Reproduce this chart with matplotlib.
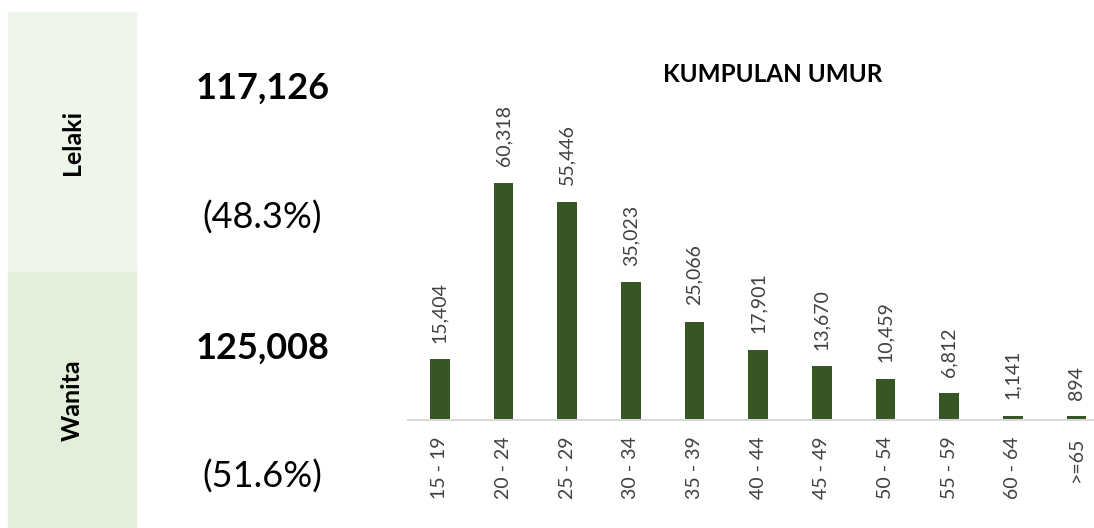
import matplotlib.pyplot as plt
from matplotlib.patches import Rectangle

# data
age_groups = ["15 - 19", "20 - 24", "25 - 29", "30 - 34", "35 - 39", "40 - 44",
              "45 - 49", "50 - 54", "55 - 59", "60 - 64", ">=65"]
counts = [15404, 60318, 55446, 35023, 25066, 17901, 13670, 10459, 6812, 1141, 894]
genders = ["Lelaki", "Wanita"]
gender_totals = ["117,126", "125,008"]
gender_shares = ["(48.3%)", "(51.6%)"]

W, H = 1094, 528
fig = plt.figure(figsize=(W / 100, H / 100), dpi=100)
fig.patch.set_facecolor("white")

# left side panel
panel_colors = ["#EEF5E9", "#E2EFDA"]
panel_y = [(12, 272), (272, 528)]
for (y0, y1), c, g in zip(panel_y, panel_colors, genders):
    fig.patches.append(Rectangle((8 / W, 1 - y1 / H), 128 / W, (y1 - y0) / H,
                                 transform=fig.transFigure, color=c, zorder=0))
    fig.text(72 / W, 1 - (y0 + y1) / 2 / H, g,
             rotation=90, ha="center", va="center", fontsize=18,
             fontweight="bold", family="Lato", color="black")

# totals and shares
tot_y = [88, 348]
share_y = [218, 477]
for t, s, ty, sy in zip(gender_totals, gender_shares, tot_y, share_y):
    fig.text(263 / W, 1 - ty / H, t, ha="center", va="center", fontsize=26,
             fontweight="bold", family="Lato", color="black")
    fig.text(262 / W, 1 - sy / H, s, ha="center", va="center", fontsize=26,
             family="Lato", color="black")

fig.text(773 / W, 1 - 75 / H, "KUMPULAN UMUR", ha="center", va="center",
         fontsize=17.5, fontweight="bold", family="Lato", color="black")

# bar chart
ax = fig.add_axes([408 / W, 1 - 420 / H, 1 - 408 / W, 320 / H])
x = list(range(len(counts)))
ax.bar(x, counts, width=0.31, color="#375623", zorder=2)
ax.set_xlim(-0.5, (W - 440) / 63.65)
ax.set_ylim(0, 60318 * 320 / 237)
for xi, v in zip(x, counts):
    ax.annotate(f"{v:,}", (xi, v), xytext=(0, 12), textcoords="offset points",
                rotation=90, ha="center", va="bottom", fontsize=14,
                family="Lato", color="#404040")

ax.set_xticks(x)
ax.set_xticklabels(age_groups, rotation=90, fontsize=14, family="Lato",
                   color="#404040")
ax.tick_params(axis="x", length=0, pad=12)
ax.set_yticks([])
for side in ["top", "right", "left"]:
    ax.spines[side].set_visible(False)
ax.spines["bottom"].set_color("#D9D9D9")
ax.spines["bottom"].set_linewidth(1.5)

fig.savefig("out.png", dpi=100)
